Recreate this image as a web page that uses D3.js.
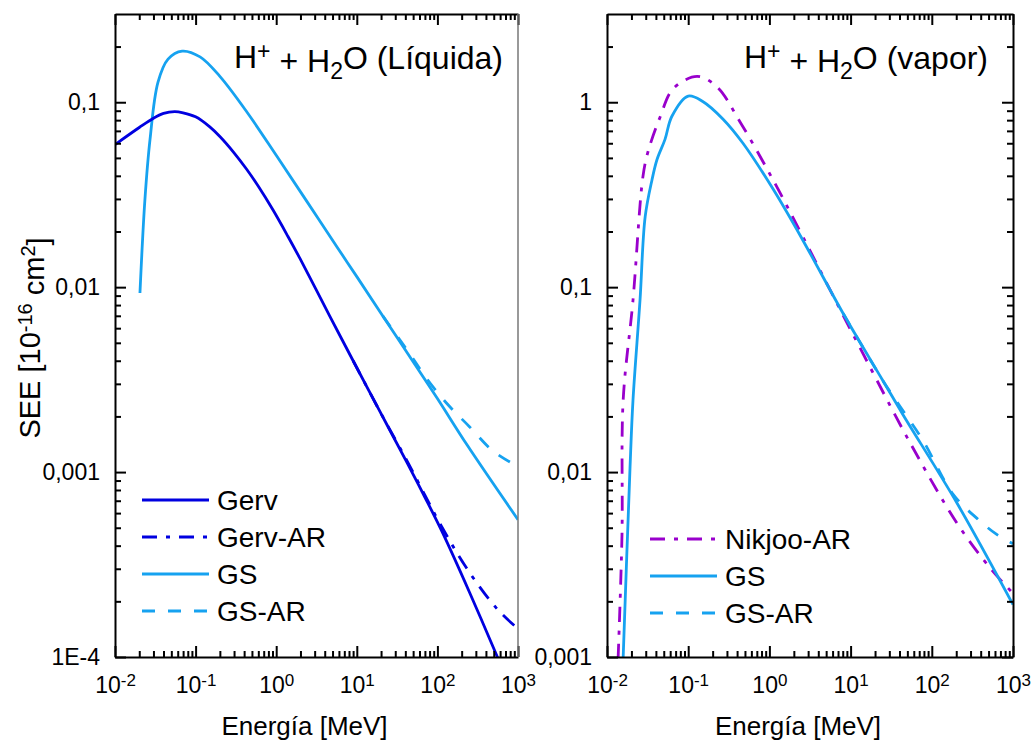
<!DOCTYPE html>
<html>
<head>
<meta charset="utf-8">
<script src="https://cdn.jsdelivr.net/npm/d3@7"></script>
<style>
  body { margin: 0; background: #fff; }
  text { font-family: "Liberation Sans", Arial, sans-serif; fill: #000; }
</style>
</head>
<body>
<script>
const width = 1031;
const height = 742;

// energy [MeV] vs SEE [1e-16 cm2]
// the -AR curves coincide with their base curve at low energy,
// so only their visible high-energy part is listed
// liquid water panel
const liqGerv = [
  [0.01, 0.059], [0.02, 0.073], [0.03, 0.082], [0.04, 0.087], [0.055, 0.089],
  [0.07, 0.0877], [0.1, 0.0834], [0.15, 0.0736], [0.2, 0.0653], [0.3, 0.0533],
  [0.43, 0.0434], [0.6, 0.0351], [0.91, 0.0262], [1.4, 0.0188], [1.97, 0.0143],
  [4.6, 0.007], [9, 0.004], [20, 0.00207], [42, 0.001125], [70, 0.000731],
  [117, 0.000466], [250, 0.000224], [550, 0.000101], [1000, 0.0000548]
];
const liqGervAR = [
  [9, 0.004], [20, 0.00207], [42, 0.00115], [70, 0.00075],
  [108, 0.000525], [233, 0.0003], [550, 0.000182], [1000, 0.000142]
];
const liqGS = [
  [0.0204, 0.0093], [0.0235, 0.0297], [0.0272, 0.063], [0.0341, 0.128],
  [0.0455, 0.171], [0.068, 0.189], [0.1135, 0.176], [0.2, 0.138],
  [0.435, 0.0883], [1.02, 0.051], [2.4, 0.0291], [5.68, 0.0165],
  [10, 0.0114], [21, 0.00699], [50, 0.00395], [100, 0.0025], [234, 0.0014],
  [1000, 0.000553]
];
const liqGSAR = [
  [21, 0.00699], [34, 0.0052], [50, 0.0041], [70, 0.0033],
  [132, 0.00234], [250, 0.00176], [490, 0.0013], [1000, 0.00107]
];

// vapour panel
const vapNikjooAR = [
  [0.0137, 0.00098], [0.0153, 0.0046], [0.0158, 0.0243], [0.0209, 0.085],
  [0.0277, 0.396], [0.032, 0.54], [0.045, 0.83], [0.065, 1.18], [0.129, 1.38],
  [0.226, 1.21], [0.437, 0.78], [1.11, 0.38], [2.57, 0.188], [7.4, 0.076],
  [15.8, 0.04], [53.7, 0.01447], [204, 0.0053], [525, 0.00302], [1000, 0.00221]
];
const vapGS = [
  [0.0158, 0.00098], [0.0192, 0.0105], [0.0209, 0.0245], [0.0255, 0.085],
  [0.0295, 0.24], [0.0358, 0.38], [0.0413, 0.49], [0.0518, 0.63], [0.063, 0.84],
  [0.1, 1.08], [0.151, 1.01], [0.269, 0.81], [0.473, 0.6], [1.11, 0.339],
  [2.57, 0.18], [8.1, 0.072], [25, 0.0312], [44, 0.0205], [204, 0.0068],
  [1000, 0.00192]
];
const vapGSAR = [
  [8.1, 0.072], [25, 0.0312], [44, 0.0215],
  [78, 0.0148], [182, 0.0076], [363, 0.0056], [630, 0.0046], [1000, 0.0041]
];

const xTicks = [0.01, 0.1, 1, 10, 100, 1000];
const liqYTicks = [1e-4, 1e-3, 1e-2, 0.1];
const liqYLabels = ["1E-4", "0,001", "0,01", "0,1"];
const vapYTicks = [1e-3, 1e-2, 0.1, 1];
const vapYLabels = ["0,001", "0,01", "0,1", "1"];

const blue = "#0000e0";
const sky = "#16a2f0";
const purple = "#9900cc";
const dashDot = "15,9,4,9";
const dashed = "13,13";

const svg = d3.select("body").append("svg")
  .attr("width", width)
  .attr("height", height);

function minorTicks(lo, hi) {
  const out = [];
  for (let e = -5; e <= 3; e++) {
    for (let k = 2; k <= 9; k++) {
      const v = k * Math.pow(10, e);
      if (v > lo * 1.0001 && v < hi * 0.9999) out.push(v);
    }
  }
  return out;
}

function drawPanel(p) {
  const w = p.w, h = p.h;
  const g = svg.append("g").attr("transform", `translate(${p.left},${p.top})`);

  const x = d3.scaleLog().domain([0.01, 1000]).range([0, w]);
  const y = d3.scaleLog().domain(p.yDomain).range([h, 0]);

  const clipId = "clip-" + p.id;
  g.append("clipPath").attr("id", clipId)
    .append("rect").attr("width", w).attr("height", h);

  // curves
  const line = d3.line()
    .x(d => x(d[0]))
    .y(d => y(d[1]))
    .curve(d3.curveCatmullRom.alpha(0.5));

  const curves = g.append("g").attr("clip-path", `url(#${clipId})`);
  p.series.forEach(s => {
    curves.append("path")
      .datum(s.data)
      .attr("fill", "none")
      .attr("stroke", s.color)
      .attr("stroke-width", 2.8)
      .attr("stroke-dasharray", s.dash || null)
      .attr("d", line);
  });

  // axes
  const xMinor = minorTicks(0.01, 1000);
  const yMinor = minorTicks(p.yDomain[0], p.yDomain[1]);

  const xAx = g.append("g").attr("transform", `translate(0,${h})`)
    .call(d3.axisBottom(x).tickValues(xTicks).tickSize(-11).tickSizeOuter(0).tickPadding(20));
  xAx.selectAll(".tick text")
    .style("font-size", "23px")
    .each(function (d) {
      const t = d3.select(this);
      t.text("10");
      t.append("tspan").attr("dy", "-0.45em").style("font-size", "17px")
        .text(Math.round(Math.log10(d)));
    });
  g.append("g").attr("transform", `translate(0,${h})`)
    .call(d3.axisBottom(x).tickValues(xMinor).tickSize(-6).tickFormat(""))
    .select(".domain").remove();

  g.append("g")
    .call(d3.axisTop(x).tickValues(xTicks).tickSize(-11).tickSizeOuter(0).tickFormat(""));
  g.append("g")
    .call(d3.axisTop(x).tickValues(xMinor).tickSize(-6).tickFormat(""))
    .select(".domain").remove();

  const yAx = g.append("g")
    .call(d3.axisLeft(y).tickValues(p.yTicks).tickSize(-11).tickSizeOuter(0).tickPadding(15)
      .tickFormat((d, i) => p.yLabels[i]));
  yAx.selectAll(".tick text").style("font-size", "23px");
  g.append("g")
    .call(d3.axisLeft(y).tickValues(yMinor).tickSize(-6).tickFormat(""))
    .select(".domain").remove();

  if (p.rightTicks) {
    g.append("g").attr("transform", `translate(${w},0)`)
      .call(d3.axisRight(y).tickValues(p.yTicks).tickSize(-11).tickSizeOuter(0).tickFormat(""));
    g.append("g").attr("transform", `translate(${w},0)`)
      .call(d3.axisRight(y).tickValues(yMinor).tickSize(-6).tickFormat(""))
      .select(".domain").remove();
  } else {
    g.append("line")
      .attr("x1", w).attr("x2", w).attr("y1", 0).attr("y2", h)
      .attr("stroke", "#777").attr("stroke-width", 1.5);
  }

  g.selectAll(".domain").attr("stroke", "#000").attr("stroke-width", 2);
  g.selectAll(".tick line").attr("stroke", "#000").attr("stroke-width", 2);

  // panel title
  const title = g.append("text")
    .attr("x", p.titleX).attr("y", 54)
    .attr("text-anchor", "end")
    .style("font-size", "32px");
  title.append("tspan").text("H");
  title.append("tspan").attr("dy", "-0.4em").style("font-size", "23px").text("+");
  title.append("tspan").attr("dy", "0.4em").text(" + H");
  title.append("tspan").attr("dy", "0.3em").style("font-size", "23px").text("2");
  title.append("tspan").attr("dy", "-0.3em").text("O " + p.phase);

  // x title
  g.append("text")
    .attr("x", w / 2 - 12).attr("y", 721)
    .attr("text-anchor", "middle")
    .style("font-size", "26px")
    .text("Energía [MeV]");

  // legend
  const leg = g.append("g").attr("transform", `translate(${p.legX},${p.legY})`);
  p.legend.forEach((s, i) => {
    const row = leg.append("g").attr("transform", `translate(0,${i * 37})`);
    row.append("line")
      .attr("x1", 0).attr("x2", 67)
      .attr("stroke", s.color).attr("stroke-width", 2.8)
      .attr("stroke-dasharray", s.dash || null);
    row.append("text")
      .attr("x", 75).attr("dy", "0.36em")
      .style("font-size", "28px")
      .text(s.label);
  });
}

const liqSeries = [
  { label: "Gerv", data: liqGerv, color: blue },
  { label: "Gerv-AR", data: liqGervAR, color: blue, dash: dashDot },
  { label: "GS", data: liqGS, color: sky },
  { label: "GS-AR", data: liqGSAR, color: sky, dash: dashed }
];
const vapSeries = [
  { label: "Nikjoo-AR", data: vapNikjooAR, color: purple, dash: dashDot },
  { label: "GS", data: vapGS, color: sky },
  { label: "GS-AR", data: vapGSAR, color: sky, dash: dashed }
];

drawPanel({
  id: "liq", left: 115, top: 14, w: 403, h: 643,
  yDomain: [1e-4, 0.3], yTicks: liqYTicks, yLabels: liqYLabels,
  rightTicks: false, phase: "(Líquida)", titleX: 388,
  series: [liqSeries[3], liqSeries[2], liqSeries[1], liqSeries[0]],
  legend: liqSeries, legX: 27, legY: 486
});

drawPanel({
  id: "vap", left: 607, top: 14, w: 406, h: 643,
  yDomain: [1e-3, 3], yTicks: vapYTicks, yLabels: vapYLabels,
  rightTicks: true, phase: "(vapor)", titleX: 381,
  series: [vapSeries[2], vapSeries[0], vapSeries[1]],
  legend: vapSeries, legX: 43, legY: 525
});

// shared y title
const yTitle = svg.append("text")
  .attr("transform", "translate(40,338) rotate(-90)")
  .attr("text-anchor", "middle")
  .style("font-size", "29px");
yTitle.append("tspan").text("SEE [10");
yTitle.append("tspan").attr("dy", "-0.42em").style("font-size", "20px").text("-16");
yTitle.append("tspan").attr("dy", "0.42em").text(" cm");
yTitle.append("tspan").attr("dy", "-0.42em").style("font-size", "20px").text("2");
yTitle.append("tspan").attr("dy", "0.42em").text("]");
</script>
</body>
</html>
